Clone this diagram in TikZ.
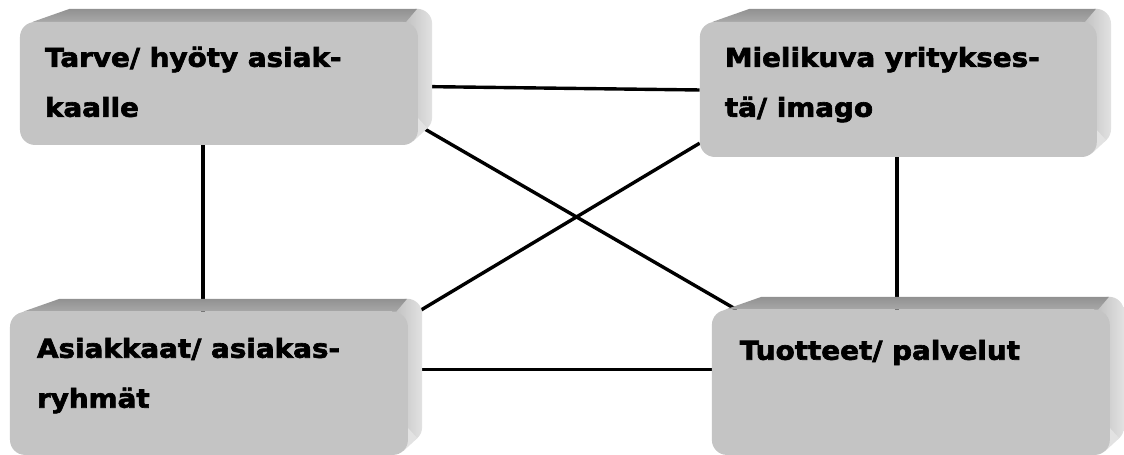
\documentclass[tikz,border=0pt]{standalone}
\usepackage{fontspec}
\newfontfamily\boxfont[FakeStretch=1.07,FakeBold=2.5]{DejaVu Sans}
\usetikzlibrary{calc}
\pgfdeclarelayer{paper}
\pgfdeclarelayer{lines}
\pgfdeclarelayer{bevel}
\pgfsetlayers{paper,lines,bevel,main}
\definecolor{facegray}{RGB}{196,196,196}
\definecolor{topdark}{RGB}{145,145,145}
\definecolor{toplight}{RGB}{168,168,168}
\definecolor{sidedark}{RGB}{190,190,190}
\definecolor{sidelight}{RGB}{226,226,226}
\newcommand\bevelfor[1]{%
  \begin{pgfonlayer}{bevel}
    \path[sideface, rounded corners=15pt] ($(#1.north east)+(-16,-13)$) rectangle ($(#1.south east)+(14,-13)$);
    \fill[sidelight] ($(#1.south east)+(-15,-15)$) -- ($(#1.south east)+(-4.8,-4)$) -- ($(#1.south east)+(9.2,-17)$) -- ($(#1.south east)+(-1,-28)$) -- cycle;
    \path[topface] ($(#1.north west)+(13,0)$) -- ($(#1.north west)+(50,-13)$) -- ($(#1.north east)+(-1,-13)$) -- ($(#1.north east)+(-12,0)$) -- cycle;
  \end{pgfonlayer}}
\begin{document}
\begin{tikzpicture}[x=1pt,y=-1pt,
  face/.style={rectangle, rounded corners=15pt, fill=facegray, draw=none, inner sep=0pt},
  lbl/.style={anchor=base west, inner sep=0pt, font=\boxfont\bfseries\fontsize{26}{50}\selectfont},
  link/.style={line width=3.4pt, draw=black},
  topface/.style={top color=topdark, bottom color=toplight},
  sideface/.style={left color=sidedark, right color=sidelight}]
\begin{pgfonlayer}{paper}
\useasboundingbox[fill=white] (0,0) rectangle (1124,445);
\end{pgfonlayer}
\node[face, minimum width=398pt, minimum height=123pt] (A) at (219,83.5) {};
\node[face, minimum width=397pt, minimum height=135pt] (B) at (898.5,89.5) {};
\node[face, minimum width=398pt, minimum height=143pt] (C) at (209,383.5) {};
\node[face, minimum width=398pt, minimum height=145pt] (D) at (911,382.5) {};
\bevelfor{A}\bevelfor{B}\bevelfor{C}\bevelfor{D}
\node[lbl] (At) at ($(A.north west)+(25,45)$) {\begin{tabular}[t]{@{}l@{}}Tarve/ hyöty asiak-\\kaalle\end{tabular}};
\node[lbl] (Bt) at ($(B.north west)+(25,45)$) {\begin{tabular}[t]{@{}l@{}}Mielikuva yritykses-\\tä/ imago\end{tabular}};
\node[lbl] (Ct) at ($(C.north west)+(27,46)$) {\begin{tabular}[t]{@{}l@{}}Asiakkaat/ asiakas-\\ryhmät\end{tabular}};
\node[lbl] (Dt) at ($(D.north west)+(28,50)$) {Tuotteet/ palvelut};
\begin{pgfonlayer}{lines}
  \draw[link] ($(A.east)+(0,3)$) -- ($(B.west)+(0,0.5)$);
  \draw[link] ($(A.south)+(-16,0)$) -- ($(C.north)+(-6,0)$);
  \draw[link] ($(B.south)+(-1.5,0)$) -- ($(D.north)+(-14,0)$);
  \draw[link] ($(A.south east)+(0,-20)$) -- ($(D.north west)+(25,0)$);
  \draw[link] ($(C.north east)+(0,6)$) -- ($(B.south west)+(0,-14)$);
  \draw[link] ($(C.north east)+(0,58)$) -- ($(D.north west)+(0,60)$);
\end{pgfonlayer}
\end{tikzpicture}
\end{document}
